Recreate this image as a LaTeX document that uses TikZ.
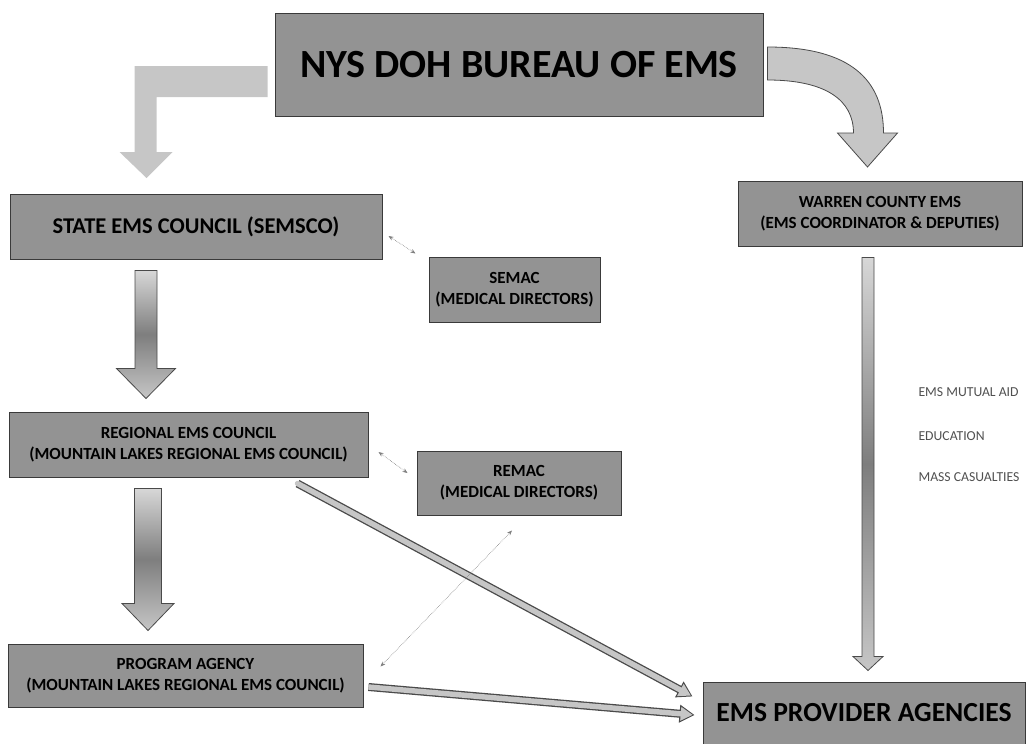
\documentclass[tikz,border=0pt]{standalone}
\usepackage{fontspec}
\setmainfont{Carlito}
\usetikzlibrary{arrows.meta,positioning,calc}
\definecolor{boxgray}{HTML}{939393}
\definecolor{boxline}{HTML}{3A3A3A}
\definecolor{arrowgray}{HTML}{C6C6C6}
\definecolor{arrowdark}{HTML}{7E7E7E}
\definecolor{arrowline}{HTML}{4A4A4A}
\definecolor{labelgray}{HTML}{505050}

\begin{document}
\begin{tikzpicture}[
    x=1pt, y=-1pt,
    box/.style={
      draw=boxline, line width=1pt, fill=boxgray,
      text=black, align=center, inner sep=2pt,
    },
    bigbox/.style={box, font=\fontsize{40}{44}\selectfont\bfseries},
    midbox/.style={box, font=\fontsize{22.5}{26}\selectfont\bfseries},
    smallbox/.style={box, font=\fontsize{17}{21}\selectfont\bfseries},
    vblock/.style={draw=arrowline, line width=0.8pt,
      top color=arrowgray!70!white, bottom color=arrowgray, middle color=arrowdark},
    bentarr/.style={fill=arrowgray},
    curvearr/.style={draw=arrowline, line width=0.8pt, fill=arrowgray},
    hollow/.style={
      preaction={draw=arrowline, line width=8pt, shorten >=0pt,
        -{Triangle[length=15pt,width=17pt]}},
      draw=arrowgray, line width=5.4pt, shorten >=1.8pt,
      -{Triangle[length=12pt,width=13pt]},
    },
    dotarr/.style={draw=gray, line width=0.6pt, densely dotted,
      {Stealth[length=5pt,width=4pt]}-{Stealth[length=5pt,width=4pt]}},
    lbl/.style={font=\fontsize{13.7}{16}\selectfont, text=labelgray, anchor=west},
  ]
  \useasboundingbox (0,0) rectangle (1026,744);

  % =================== BOXES ===================
  \node[bigbox, minimum width=488pt, minimum height=103pt] (bureau) at (519,64.5) {NYS DOH BUREAU OF EMS};
  \node[smallbox, minimum width=284pt, minimum height=65pt] (warren) at (880,213.5)
    {WARREN COUNTY EMS\\(EMS COORDINATOR \& DEPUTIES)};
  \node[midbox, minimum width=372pt, minimum height=65pt] (state) at (196,226.5) {STATE EMS COUNCIL (SEMSCO)};
  \node[smallbox, minimum width=171pt, minimum height=65pt] (semac) at (514.5,289.5)
    {SEMAC\\(MEDICAL DIRECTORS)};
  \node[smallbox, minimum width=359pt, minimum height=65pt] (regional) at (188.5,444.5)
    {REGIONAL EMS COUNCIL\\(MOUNTAIN LAKES REGIONAL EMS COUNCIL)};
  \node[smallbox, minimum width=204pt, minimum height=64pt] (remac) at (519,483)
    {REMAC\\(MEDICAL DIRECTORS)};
  \node[smallbox, minimum width=355pt, minimum height=63pt] (program) at (185.5,675.5)
    {PROGRAM AGENCY\\(MOUNTAIN LAKES REGIONAL EMS COUNCIL)};
  \node[box, font=\fontsize{27.6}{32}\selectfont\bfseries, minimum width=322pt, minimum height=62pt]
    (provider) at (864,713) {EMS PROVIDER AGENCIES};

  % =================== BLOCK ARROWS ===================
  % Bureau -> State (bent)
  \fill[bentarr, shift={(bureau.west)}]
    (-7,1.5) -- (-140,1.5) -- (-140,87.5) -- (-155,87.5) -- (-128,113.5)
    -- (-102,87.5) -- (-118,87.5) -- (-118,32.5) -- (-7,32.5) -- cycle;
  % Bureau -> Warren (curved)
  \filldraw[curvearr, shift={(bureau.east)}]
    (4,-17.5) .. controls (87,-17.5) and (120,15.5) .. (120,68.5)
    -- (134,68.5) -- (104,102.5) -- (74,68.5) -- (90,68.5)
    .. controls (90,35.5) and (62,15.5) .. (4,15.5) -- cycle;
  % State -> Regional
  \shadedraw[vblock, shift={(state.south)}]
    (-61,11) -- (-61,109) -- (-79.5,109) -- (-50,139) -- (-20.5,109) -- (-39,109) -- (-39,11) -- cycle;
  % Regional -> Program
  \shadedraw[vblock, shift={(regional.south)}]
    (-54,11) -- (-54,126) -- (-66.5,126) -- (-40.5,153) -- (-14.5,126) -- (-27,126) -- (-27,11) -- cycle;
  % Warren -> Provider
  \shadedraw[vblock, shift={(warren.south)}]
    (-18,11) -- (-18,410) -- (-27,410) -- (-12,424) -- (3,410) -- (-6,410) -- (-6,11) -- cycle;

  % =================== THIN ARROWS ===================
  \draw[hollow, line cap=round] ([xshift=-71pt,yshift=-6pt]regional.south east)
    -- ([xshift=-10pt,yshift=-15pt]provider.north west);
  \draw[hollow] ([xshift=5pt,yshift=-11.5pt]program.east)
    -- ([xshift=-8pt,yshift=-2pt]provider.west);

  % Dotted links to the medical boards
  \draw[dotarr] ([xshift=6pt,yshift=-9.5pt]state.east) -- ([xshift=-13pt,yshift=3pt]semac.north west);
  \draw[dotarr] ([xshift=10pt,yshift=-7.5pt]regional.east) -- ([xshift=-9pt,yshift=10pt]remac.west);
  \draw[dotarr] ([xshift=17pt,yshift=-23pt]program.north east) -- ([xshift=-7pt,yshift=-15pt]remac.south);

  % =================== LABELS ===================
  \node[lbl] (mutual) at (915,392) {EMS MUTUAL AID};
  \node[lbl] (education) at (915,436) {EDUCATION};
  \node[lbl] (casualties) at (915,477) {MASS CASUALTIES};

\end{tikzpicture}
\end{document}
